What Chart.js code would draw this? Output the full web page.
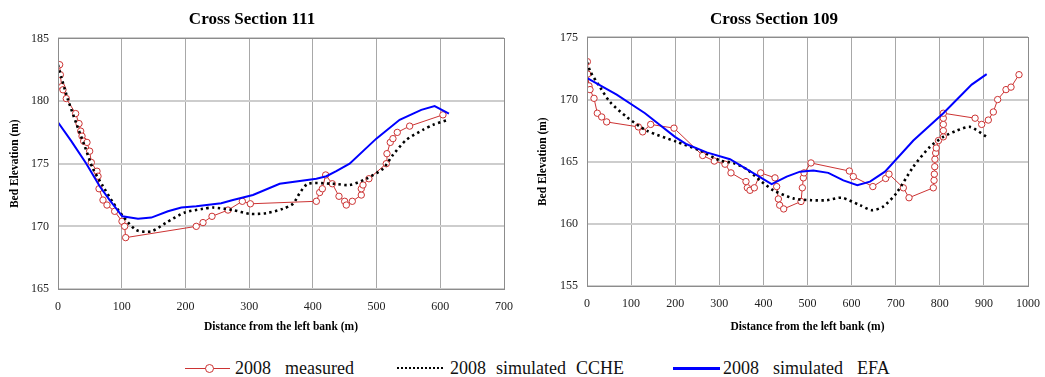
<!DOCTYPE html>
<html>
<head>
<meta charset="utf-8">
<script src="https://cdn.jsdelivr.net/npm/chart.js@4.4.1/dist/chart.umd.min.js"></script>
<style>
  html, body { margin: 0; padding: 0; background: #fff; }
  body { width: 1045px; height: 377px; position: relative; overflow: hidden; font-family: "Liberation Serif", "Times New Roman", serif; }
  #c1 { position: absolute; left: 0; top: 0; }
  #c2 { position: absolute; left: 520px; top: 0; }
  .leg { position: absolute; top: 357px; height: 22px; font-size: 18px; line-height: 22px; color: #111; }
  .sw { position: absolute; top: 11px; }
  .lt { position: absolute; top: 0; white-space: pre; }
</style>
</head>
<body>
<canvas id="c1" width="520" height="340"></canvas>
<canvas id="c2" width="525" height="340"></canvas>

<div class="leg" style="left:185px;width:175px;"><div class="sw" style="left:0;width:45px;border-top:1px solid #cc3333;"></div><div class="sw" style="left:20px;top:7px;width:7px;height:7px;border:1px solid #cc3333;border-radius:50%;background:#fff;"></div><span class="lt" id="l1" style="left:50px;word-spacing:2.5px;"></span></div>
<div class="leg" style="left:397px;width:240px;"><div class="sw" style="left:0;top:10px;width:46px;border-top:2px dotted #000;"></div><span class="lt" id="l2" style="left:53px;word-spacing:0.5px;"></span></div>
<div class="leg" style="left:673px;width:230px;"><div class="sw" style="left:0;top:10px;width:47px;border-top:3px solid #0000ff;"></div><span class="lt" id="l3" style="left:50px;word-spacing:2.5px;"></span></div>

<script>
// ---------- Data: Cross Section 111 ----------
const xs111Measured = [0, 2.6, 3.7, 5.8, 7.8, 13, 27.7, 33, 35.6, 37.7, 40.3, 45.5, 49.7, 52.3, 61.2, 62.8, 64.4, 70.6, 76.9, 88.9, 100.4, 104.6, 106.2, 217, 227.6, 241.7, 266.8, 289.3, 301.9, 405.5, 410.7, 414.9, 420.1, 430.5, 441, 449.9, 452.5, 461.9, 476, 476, 478.7, 488, 515.2, 516.3, 521.5, 525.7, 532.5, 551.9, 604.2];
const ys111Measured = [182.9, 182.9, 182.1, 181.15, 180.9, 180.2, 179.0, 178.2, 177.6, 177.2, 176.8, 176.7, 176.0, 175.1, 174.4, 174.0, 173.0, 172.1, 171.7, 171.2, 170.4, 170.0, 169.1, 170.0, 170.3, 170.8, 171.3, 172.0, 171.8, 172.0, 172.7, 173.0, 174.1, 173.4, 172.4, 172.0, 171.7, 172.0, 172.5, 173.0, 173.3, 173.8, 175.0, 175.8, 176.7, 177.0, 177.5, 178.0, 178.9];

const xs111CCHE = [0, 5.2, 15.7, 28.8, 41.9, 54.9, 70.6, 86.3, 102, 122.9, 146.5, 170, 198.8, 227.6, 243.3, 274.6, 300.8, 327, 353.1, 368.8, 379.3, 392.4, 431.6, 457.7, 483.9, 510, 525.7, 546.6, 572.8, 588.5, 612];
const ys111CCHE = [182.9, 181.9, 180.1, 178.2, 176.4, 174.6, 173.2, 171.9, 170.8, 169.7, 169.6, 170.3, 171.1, 171.4, 171.5, 171.3, 171.0, 171.05, 171.4, 171.8, 172.65, 173.4, 173.4, 173.3, 173.8, 174.6, 175.7, 176.9, 177.7, 178.1, 178.5];

const xs111EFA = [0, 20.9, 44.5, 65.4, 81.1, 101, 125.6, 146.5, 172.6, 193.6, 217, 256.2, 274.6, 306, 347.9, 405.5, 421.2, 436.8, 457.7, 499.6, 536.2, 570.2, 591.1, 613.6];
const ys111EFA = [178.3, 176.8, 175.0, 173.2, 172.1, 170.8, 170.6, 170.7, 171.2, 171.5, 171.6, 171.85, 172.1, 172.5, 173.4, 173.8, 174.0, 174.4, 175.0, 177.0, 178.5, 179.3, 179.6, 179.0];

// ---------- Data: Cross Section 109 ----------
const xs109Measured = [0.8, 1.5, 4.5, 6.8, 15.9, 23.4, 33.3, 44.6, 116.4, 126.2, 144.4, 197.3, 262.3, 288.7, 312.9, 326.5, 360.5, 363.6, 369.6, 379.4, 393.8, 426.3, 430.1, 433.9, 436.9, 446, 485.3, 488.3, 490.6, 492.1, 507.9, 594.9, 603.9, 648.2, 677.2, 684.8, 717.3, 730.2, 785.3, 787, 787.6, 788.5, 789, 790.6, 792, 797, 808, 808, 808, 808, 808, 880, 895, 910, 921.4, 931.2, 950.1, 961.5, 979.6];
const ys109Measured = [173.05, 172.05, 171.1, 170.8, 170.1, 168.9, 168.6, 168.2, 167.8, 167.4, 168.0, 167.7, 165.5, 165.05, 164.8, 164.1, 163.4, 162.9, 162.7, 162.9, 164.1, 163.7, 163.0, 162.0, 161.5, 161.2, 161.8, 162.9, 163.7, 164.1, 164.9, 164.25, 163.8, 163.0, 163.65, 164.0, 162.9, 162.1, 162.9, 163.5, 164.0, 164.6, 165.2, 165.7, 166.1, 166.7, 167.0, 167.5, 168.0, 168.5, 168.9, 168.5, 168.0, 168.35, 169.0, 170.0, 170.8, 171.0, 172.0];

const xs109CCHE = [0, 8.3, 29.5, 52.2, 89.9, 135.3, 203.3, 256.2, 301.6, 331.8, 362, 392.3, 422.5, 467.9, 509.4, 543.5, 577.5, 619, 645.5, 672, 702.2, 740, 777.8, 808, 838.2, 868.5, 906.3];
const ys109CCHE = [173.0, 172.2, 171.0, 169.8, 168.6, 167.5, 166.6, 165.9, 165.1, 164.9, 164.4, 163.5, 162.7, 162.05, 161.9, 161.9, 162.1, 161.5, 161.1, 161.4, 162.5, 164.6, 166.2, 167.0, 167.5, 167.8, 167.0];

const xs109EFA = [1.5, 67.3, 131.5, 199.5, 226, 271.4, 324.3, 418.7, 452.8, 483, 513.2, 547.2, 581.3, 613, 641.7, 675.7, 740, 808, 872.3, 906.3];
const ys109EFA = [171.7, 170.4, 168.9, 167.0, 166.4, 165.75, 165.2, 163.2, 163.8, 164.2, 164.3, 164.1, 163.5, 163.1, 163.4, 164.2, 166.7, 168.9, 171.2, 172.05];

// ---------- Labels ----------
const titles = ["Cross Section 111", "Cross Section 109"];
const xTitle = "Distance from the left bank (m)";
const yTitle = "Bed Elevation (m)";
const seriesNames = ["2008  measured", "2008  simulated  CCHE", "2008  simulated  EFA"];

document.getElementById('l1').textContent = seriesNames[0];
document.getElementById('l2').textContent = seriesNames[1];
document.getElementById('l3').textContent = seriesNames[2];

function pts(xs, ys) { return xs.map((x, i) => ({ x: x, y: ys[i] })); }

const SERIF = '"Liberation Serif", "Times New Roman", serif';

const boxPlugin = {
  id: 'box',
  afterDraw(chart) {
    const a = chart.chartArea, ctx = chart.ctx;
    ctx.save();
    ctx.strokeStyle = '#8c8c8c';
    ctx.lineWidth = 1;
    ctx.strokeRect(Math.round(a.left) + 0.5, Math.round(a.top) + 0.5, Math.round(a.right - a.left), Math.round(a.bottom - a.top));
    ctx.restore();
  }
};

function makeChart(id, cfg) {
  return new Chart(document.getElementById(id), {
    type: 'scatter',
    data: {
      datasets: [
        { label: seriesNames[0], data: pts(cfg.mx, cfg.my), showLine: true, borderColor: '#cc3333', borderWidth: 1,
          pointRadius: 3.2, pointBorderWidth: 1, pointBackgroundColor: '#ffffff', pointBorderColor: '#cc3333', order: 3 },
        { label: seriesNames[1], data: pts(cfg.cx, cfg.cy), showLine: true, borderColor: '#000000', borderWidth: 2.6,
          borderDash: [2.4, 3.4], pointRadius: 0, tension: 0.25, order: 2 },
        { label: seriesNames[2], data: pts(cfg.ex, cfg.ey), showLine: true, borderColor: '#0000ff', borderWidth: 2,
          pointRadius: 0, order: 1 }
      ]
    },
    options: {
      responsive: false,
      animation: false,
      layout: { padding: { left: 0, right: cfg.padRight, top: 0, bottom: 0 } },
      plugins: {
        legend: { display: false },
        tooltip: { enabled: false },
        title: { display: true, text: cfg.title, color: '#000',
          font: { family: SERIF, size: 17, weight: 'bold' }, padding: { top: cfg.titleTop, bottom: cfg.titleBottom } }
      },
      scales: {
        x: {
          type: 'linear', min: cfg.xmin, max: cfg.xmax,
          ticks: { stepSize: 100, color: '#222', padding: 11, font: { family: SERIF, size: 12 }, callback: v => String(v), maxRotation: 0 },
          grid: { color: '#a8a8a8', lineWidth: 1, drawTicks: false },
          border: { display: false },
          title: { display: true, text: xTitle, color: '#000', font: { family: SERIF, size: 11.5, weight: 'bold' }, padding: { top: 0, bottom: 6 } },
          afterFit(s) { s.height = cfg.xAxisH; s.paddingLeft = 0; s.paddingRight = 0; }
        },
        y: {
          type: 'linear', min: cfg.ymin, max: cfg.ymax,
          ticks: { stepSize: 5, color: '#222', padding: 9, font: { family: SERIF, size: 12 }, callback: v => String(v) },
          grid: { color: '#cdcdcd', lineWidth: 2, drawTicks: false },
          border: { display: false },
          title: { display: true, text: yTitle, color: '#000', font: { family: SERIF, size: 11.5, weight: 'bold' }, padding: { top: cfg.yTitleTop, bottom: 0 } },
          afterFit(s) { s.width = cfg.yAxisW; s.paddingTop = 0; s.paddingBottom = 0; }
        }
      }
    },
    plugins: [boxPlugin]
  });
}

makeChart('c1', {
  title: titles[0], mx: xs111Measured, my: ys111Measured, cx: xs111CCHE, cy: ys111CCHE, ex: xs111EFA, ey: ys111EFA,
  xmin: 0, xmax: 700, ymin: 165, ymax: 185, padRight: 16, titleTop: 9, titleBottom: 9, xAxisH: 51, yAxisW: 58, yTitleTop: 8
});
makeChart('c2', {
  title: titles[1], mx: xs109Measured, my: ys109Measured, cx: xs109CCHE, cy: ys109CCHE, ex: xs109EFA, ey: ys109EFA,
  xmin: 0, xmax: 1000, ymin: 155, ymax: 175, padRight: 17, titleTop: 9, titleBottom: 8, xAxisH: 54, yAxisW: 67, yTitleTop: 16
});
</script>
</body>
</html>
